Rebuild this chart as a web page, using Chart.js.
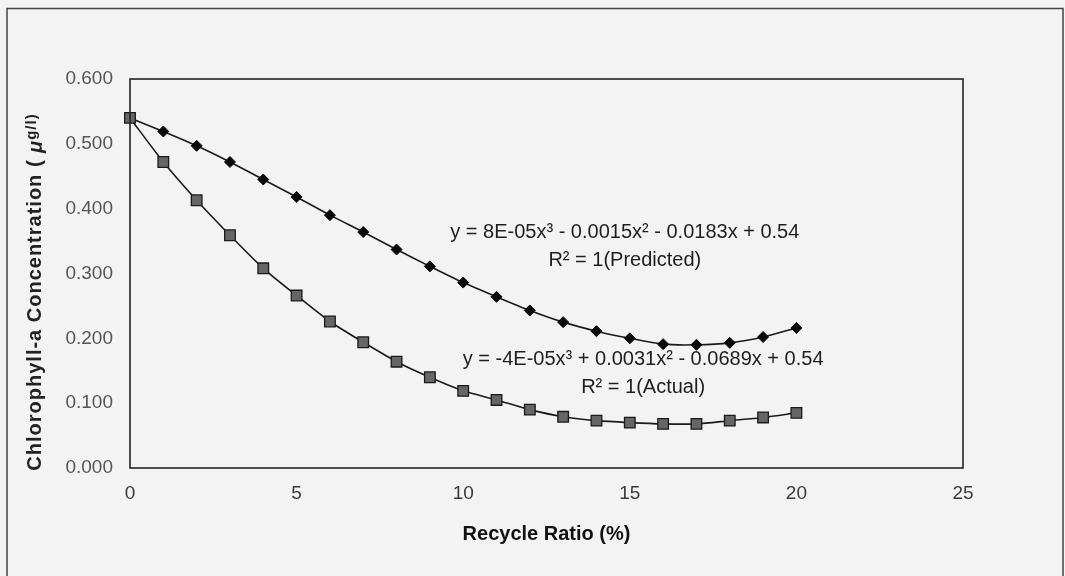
<!DOCTYPE html>
<html>
<head>
<meta charset="utf-8">
<script src="https://cdn.jsdelivr.net/npm/chart.js@4.4.1/dist/chart.umd.min.js"></script>
<style>
  html, body { margin: 0; padding: 0; background: #f3f3f3; }
  #wrap { width: 1065px; height: 576px; position: relative; }
</style>
</head>
<body>
<div id="wrap"><canvas id="chart" width="1065" height="576"></canvas></div>
<script>
// recycle ratio (%)
const recycle = [0, 1, 2, 3, 4, 5, 6, 7, 8, 9, 10, 11, 12, 13, 14, 15, 16, 17, 18, 19, 20];
const predicted = [0.540, 0.519, 0.497, 0.472, 0.445, 0.418, 0.390, 0.364, 0.337, 0.311, 0.286,
                   0.264, 0.243, 0.225, 0.211, 0.200, 0.191, 0.190, 0.193, 0.202, 0.216];
const actual = [0.540, 0.472, 0.413, 0.359, 0.308, 0.266, 0.226, 0.194, 0.164, 0.140, 0.119,
                0.105, 0.090, 0.079, 0.073, 0.070, 0.068, 0.068, 0.073, 0.078, 0.085];
const xTicks = [0, 5, 10, 15, 20, 25];
const yTicks = [0, 0.1, 0.2, 0.3, 0.4, 0.5, 0.6];

const eqPredicted = 'y = 8E-05x\u00B3 - 0.0015x\u00B2 - 0.0183x + 0.54';
const r2Predicted = 'R\u00B2 = 1(Predicted)';
const eqActual = 'y = -4E-05x\u00B3 + 0.0031x\u00B2 - 0.0689x + 0.54';
const r2Actual = 'R\u00B2 = 1(Actual)';

const FONT = '"Liberation Sans", Arial, sans-serif';

function pts(ys) {
    return recycle.map((x, i) => ({ x: x, y: ys[i] }));
}

// frame round the plot, outer border, y title, trendline labels
const decor = {
    id: 'decor',
    beforeDraw(chart) {
        const c = chart.ctx;
        c.save();
        c.strokeStyle = '#444';
        c.lineWidth = 1.5;
        c.beginPath();
        c.moveTo(7, 600); c.lineTo(7, 8.5); c.lineTo(1063, 8.5); c.lineTo(1063, 600);
        c.stroke();
        c.restore();
    },
    afterDatasetsDraw(chart) {
        const c = chart.ctx;
        const a = chart.chartArea;
        const sx = chart.scales.x, sy = chart.scales.y;
        c.save();
        c.strokeStyle = '#222';
        c.lineWidth = 1.6;
        c.strokeRect(a.left, a.top, a.right - a.left, a.bottom - a.top);

        c.fillStyle = '#1e1e1e';
        c.font = '20px ' + FONT;
        c.textAlign = 'center';
        c.textBaseline = 'middle';
        c.fillText(eqPredicted, sx.getPixelForValue(14.85), sy.getPixelForValue(0.363));
        c.fillText(r2Predicted, sx.getPixelForValue(14.85), sy.getPixelForValue(0.320));
        c.fillText(eqActual, sx.getPixelForValue(15.4), sy.getPixelForValue(0.167));
        c.fillText(r2Actual, sx.getPixelForValue(15.4), sy.getPixelForValue(0.124));

        // y axis title, rotated
        c.translate(35, 292);
        c.rotate(-Math.PI / 2);
        c.textAlign = 'left';
        c.textBaseline = 'middle';
        c.fillStyle = '#222';
        c.letterSpacing = '1px';
        const main = 'Chlorophyll-a Concentration ( ';
        c.font = 'bold 20px ' + FONT;
        const wMain = c.measureText(main).width;
        c.font = 'bold italic 20px ' + FONT;
        const wMu = c.measureText('\u03BC').width;
        c.font = 'bold 15px ' + FONT;
        const wSup = c.measureText('g/l)').width;
        let x0 = -(wMain + wMu + wSup) / 2;
        c.font = 'bold 20px ' + FONT;
        c.fillText(main, x0, 0);
        c.font = 'bold italic 20px ' + FONT;
        c.fillText('\u03BC', x0 + wMain, 1);
        c.font = 'bold 15px ' + FONT;
        c.fillText('g/l)', x0 + wMain + wMu, -3);
        c.restore();
    }
};

new Chart(document.getElementById('chart'), {
    type: 'scatter',
    data: {
        datasets: [{
            label: 'Actual',
            data: pts(actual),
            showLine: true,
            borderColor: '#1a1a1a',
            borderWidth: 1.6,
            tension: 0.25,
            pointStyle: 'rect',
            pointRadius: 7.5,
            pointBackgroundColor: '#666',
            pointBorderColor: '#1a1a1a',
            pointBorderWidth: 1.3,
            clip: false
        }, {
            label: 'Predicted',
            data: pts(predicted),
            showLine: true,
            borderColor: '#1a1a1a',
            borderWidth: 1.6,
            tension: 0.25,
            pointStyle: 'rectRot',
            pointRadius: 5.5,
            pointBackgroundColor: '#0a0a0a',
            pointBorderColor: '#0a0a0a',
            pointBorderWidth: 1,
            clip: false
        }]
    },
    options: {
        responsive: false,
        animation: false,
        layout: { padding: { left: 8, right: 102, top: 79, bottom: 26 } },
        plugins: { legend: { display: false }, tooltip: { enabled: false } },
        scales: {
            x: {
                type: 'linear',
                min: 0, max: 25,
                afterBuildTicks: (s) => { s.ticks = xTicks.map(v => ({ value: v })); },
                afterFit: (s) => { s.height = 82; },
                grid: { display: false, drawTicks: false },
                border: { display: false },
                ticks: { color: '#3a3a3a', padding: 14, font: { family: FONT, size: 19 } },
                title: {
                    display: true,
                    text: 'Recycle Ratio (%)',
                    color: '#111',
                    padding: { top: 6 },
                    font: { family: FONT, size: 20, weight: 'bold' }
                }
            },
            y: {
                min: 0, max: 0.6,
                afterBuildTicks: (s) => { s.ticks = yTicks.map(v => ({ value: v })); },
                afterFit: (s) => { s.width = 122; },
                grid: { display: false, drawTicks: false },
                border: { display: false },
                ticks: {
                    color: '#555',
                    padding: 17,
                    font: { family: FONT, size: 19 },
                    callback: (v) => v.toFixed(3)
                }
            }
        }
    },
    plugins: [decor]
});
</script>
</body>
</html>
